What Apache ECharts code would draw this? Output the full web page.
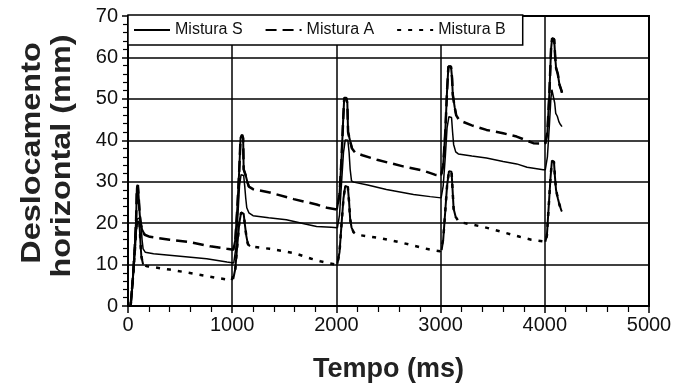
<!DOCTYPE html>
<html><head><meta charset="utf-8">
<script src="https://cdn.jsdelivr.net/npm/echarts@6/dist/echarts.min.js"></script>
<style>html,body{margin:0;padding:0;background:#fff}#c{width:688px;height:392px}</style>
</head><body><div id="c"></div>
<script>
// ---- data ----
const seriesNames = ['Mistura S', 'Mistura A', 'Mistura B'];
const cycleStarts = [0, 1000, 2000, 3000, 4000];
const xTitle = 'Tempo (ms)';
const yTitleLines = ['Deslocamento', 'horizontal (mm)'];

// [tempo (ms), deslocamento (mm)]
const misturaS = [
  [25,0],[45,6],[65,14],[78,20],[90,21],[110,21.2],[125,20],[135,16],[145,13.8],[165,13],[245,12.6],[500,12.0],[755,11.4],[950,10.6],[1015,10.4],
  [1035,14],[1055,22],[1070,29],[1085,31.7],[1110,31.5],[1120,29],[1130,26],[1140,23.7],[1160,22.5],[1200,21.8],[1350,21.3],[1520,20.8],[1700,19.8],[1810,19.2],[1950,19.0],[2010,18.9],
  [2030,22],[2050,30],[2068,37],[2085,40.1],[2110,40],[2122,37],[2132,33],[2145,30.2],[2165,29.9],[2300,29.2],[2480,28.1],[2740,26.9],[2900,26.4],[3005,26.1],
  [3025,29],[3045,36],[3062,43],[3080,45.7],[3105,45.5],[3115,42],[3125,39],[3145,37.2],[3170,36.7],[3300,36.2],[3440,35.7],[3600,34.9],[3730,34.3],[3830,33.5],[3985,32.9],[4005,32.9],
  [4025,36],[4045,44],[4058,50],[4068,52.2],[4085,52],[4095,49],[4105,46.5],[4120,45.8],[4135,44.5],[4150,43.8],[4165,43.3]
];
const misturaA = [
  [25,0],[45,6],[65,14],[78,21],[85,28.5],[95,29.2],[108,28.8],[113,22],[122,20],[135,18.5],[160,17.2],[210,16.7],[400,16.0],[600,15.4],[790,14.4],[950,13.8],[1010,13.6],
  [1030,16],[1050,24],[1068,33],[1080,40.5],[1095,41.3],[1105,40.5],[1110,33],[1130,31.5],[1145,30],[1160,28.8],[1200,28.2],[1360,27.4],[1590,25.8],[1810,24.5],[1910,23.7],[2005,23.3],
  [2030,27],[2050,36],[2065,45],[2075,50.2],[2095,50.2],[2105,49],[2112,42],[2130,40],[2150,38],[2180,37],[2250,36.4],[2390,35.3],[2640,33.7],[2830,32.7],[2945,31.7],[3005,31.5],
  [3025,34],[3045,42],[3062,52],[3075,57.8],[3100,57.8],[3110,55],[3117,51],[3135,48],[3150,46],[3180,44.8],[3300,43.6],[3440,42.5],[3600,41.7],[3730,40.9],[3890,39.3],[4005,39.2],
  [4025,42],[4045,52],[4060,62],[4070,64.6],[4090,64.4],[4100,60],[4108,57.5],[4125,56],[4140,53.5],[4160,52],[4165,51.5]
];
const misturaB = [
  [25,0],[45,6],[65,13],[80,19],[95,20.5],[110,20],[118,16],[128,12],[145,10],[180,9.6],[400,8.8],[630,7.8],[850,6.8],[995,6.2],[1010,6.5],
  [1030,9],[1050,15],[1068,20],[1085,22.5],[1110,22.3],[1120,20],[1135,17],[1150,15],[1170,14.4],[1360,13.8],[1590,12.8],[1760,11.4],[1845,10.8],[1990,10.0],[2010,10.2],
  [2030,13],[2050,20],[2068,26],[2085,29],[2110,28.7],[2122,25],[2132,21],[2145,19],[2165,17.8],[2195,17.2],[2420,16.4],[2640,15.2],[2865,13.8],[2995,13.2],[3010,13.5],
  [3025,16],[3045,23],[3062,29],[3080,32.5],[3105,32.4],[3115,28],[3125,23.5],[3145,21.5],[3175,20.3],[3190,20.0],[3410,19.1],[3630,17.6],[3760,16.7],[3870,16.0],[3985,15.6],[4005,15.5],
  [4020,17],[4040,25],[4055,31],[4068,35],[4088,34.8],[4098,31],[4108,28],[4125,26],[4140,24.5],[4160,23],[4165,22.8]
];

// ---- helpers ----
const FONT = "'Liberation Sans', Arial, Helvetica, sans-serif";
const SPIKE_WIN = 170;
function spikeParts(data) {
  const out = [];
  cycleStarts.forEach(c => {
    data.filter(p => p[0] >= c && p[0] <= c + SPIKE_WIN).forEach(p => out.push(p));
    out.push([c + SPIKE_WIN + 1, '-']);
  });
  return out;
}

const chart = echarts.init(document.getElementById('c'), null, {renderer: 'canvas'});
const gridL = 128, gridT = 16, gridR = 39, gridB = 86;

chart.setOption({
  animation: false,
  backgroundColor: '#fff',
  grid: {left: gridL, top: gridT, right: gridR, bottom: gridB, show: true, borderColor: '#000', borderWidth: 2, backgroundColor: 'transparent'},
  legend: {
    data: seriesNames,
    left: gridL, top: gridT - 1,
    orient: 'horizontal',
    padding: [7, 17, 7, 5],
    itemGap: 22, itemWidth: 36, itemHeight: 14,
    backgroundColor: '#fff', borderColor: '#000', borderWidth: 1.5,
    itemStyle: {color: 'rgba(0,0,0,0)', borderWidth: 0, borderColor: 'rgba(0,0,0,0)'},
    textStyle: {fontFamily: FONT, fontSize: 16, color: '#111'}
  },
  xAxis: {
    type: 'value', min: 0, max: 5000, interval: 1000,
    name: xTitle, nameLocation: 'middle', nameGap: 50,
    nameTextStyle: {fontFamily: FONT, fontSize: 27, fontWeight: 'bold', color: '#222'},
    axisLine: {show: true, onZero: false, lineStyle: {color: '#000', width: 2}},
    axisTick: {show: true, inside: false, length: 7, lineStyle: {color: '#000', width: 1.5}},
    minorTick: {show: true, splitNumber: 5, length: 6, lineStyle: {color: '#000', width: 1.2}},
    splitLine: {show: true, lineStyle: {color: '#000', width: 1.5}},
    axisLabel: {fontFamily: FONT, fontSize: 20, color: '#111', margin: 9, formatter: v => String(v)}
  },
  yAxis: {
    type: 'value', min: 0, max: 70, interval: 10,
    axisLine: {show: true, onZero: false, lineStyle: {color: '#000', width: 2}},
    axisTick: {show: true, inside: false, length: 6, lineStyle: {color: '#000', width: 1.5}},
    minorTick: {show: true, splitNumber: 5, length: 5, lineStyle: {color: '#000', width: 1.2}},
    splitLine: {show: true, lineStyle: {color: '#000', width: 1.5}},
    axisLabel: {fontFamily: FONT, fontSize: 20, color: '#111', margin: 10, formatter: v => String(v)}
  },
  graphic: [
    {type: 'text', x: 33, y: 153, rotation: Math.PI / 2, scaleX: 1.2,
     style: {text: yTitleLines[0], font: "bold 27px " + FONT, fill: '#222', align: 'center', verticalAlign: 'middle'}},
    {type: 'text', x: 63, y: 156, rotation: Math.PI / 2, scaleX: 1.2,
     style: {text: yTitleLines[1], font: "bold 27px " + FONT, fill: '#222', align: 'center', verticalAlign: 'middle'}}
  ],
  series: [
    {name: seriesNames[0], type: 'line', data: misturaS, symbol: 'none', z: 5,
     lineStyle: {color: '#000', width: 1.5, type: 'solid'}, itemStyle: {color: '#000'}},
    {name: seriesNames[1], type: 'line', data: misturaA, symbol: 'none', z: 4,
     lineStyle: {color: '#000', width: 2.5, type: [11, 6]}, itemStyle: {color: '#000'}},
    {name: seriesNames[2], type: 'line', data: misturaB, symbol: 'none', z: 4,
     lineStyle: {color: '#000', width: 2.5, type: [4, 7]}, itemStyle: {color: '#000'}},
    {name: '_spikeA', type: 'line', data: spikeParts(misturaA), symbol: 'none', z: 6, connectNulls: false,
     lineStyle: {color: '#000', width: 2, type: 'solid'}},
    {name: '_spikeB', type: 'line', data: spikeParts(misturaB), symbol: 'none', z: 6, connectNulls: false,
     lineStyle: {color: '#000', width: 2, type: 'solid'}}
  ]
});
</script></body></html>
